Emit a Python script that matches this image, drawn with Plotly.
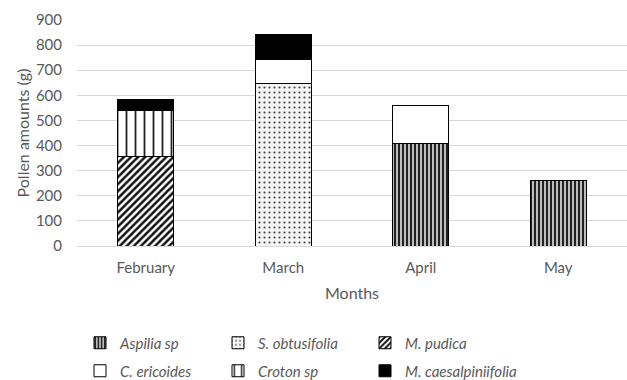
import plotly.graph_objects as go

months = ["February", "March", "April", "May"]

# Pollen amounts (g) per plant species and month
aspilia = [0, 0, 410, 260]
s_obtusifolia = [0, 648, 0, 0]
m_pudica = [358, 0, 0, 0]
c_ericoides = [0, 96, 150, 0]
croton = [180, 0, 0, 0]
m_caesalpiniifolia = [46, 99, 0, 0]

series = [
    ("Aspilia sp", aspilia,
     dict(shape="|", fgcolor="#111111", bgcolor="#bdbdbd", size=4, solidity=0.45)),
    ("S. obtusifolia", s_obtusifolia,
     dict(shape=".", fgcolor="#444444", bgcolor="#f4f4f4", size=5, solidity=0.15)),
    ("M. pudica", m_pudica,
     dict(shape="/", fgcolor="#111111", bgcolor="#ffffff", size=5, solidity=0.5)),
    ("C. ericoides", c_ericoides,
     dict(shape="", fgcolor="#000000", bgcolor="#ffffff")),
    ("Croton sp", croton,
     dict(shape="|", fgcolor="#222222", bgcolor="#ffffff", size=9, solidity=0.2)),
    ("M. caesalpiniifolia", m_caesalpiniifolia,
     dict(shape="", fgcolor="#000000", bgcolor="#000000")),
]

gray = "#595959"
font_family = "Lato, Open Sans, sans-serif"

# legend grid: 3 columns x 2 rows, one legend box per entry (pixel anchors)
plot_left, plot_top, plot_w, plot_h = 77, 20, 550, 226
col_px = [80, 218, 365]
row_px = [343, 371]

fig = go.Figure()
legends = {}
for i, (name, vals, pat) in enumerate(series):
    key = "legend" if i == 0 else f"legend{i + 1}"
    color = "#000000" if name == "M. caesalpiniifolia" else "#ffffff"
    fig.add_trace(go.Bar(
        x=months, y=vals, name=name, legend=key, showlegend=True,
        marker=dict(color=color, pattern=dict(fillmode="replace", **pat),
                    line=dict(color="#000000", width=1)),
    ))
    legends[key] = dict(
        orientation="h", xanchor="left", yanchor="middle",
        x=(col_px[i % 3] - plot_left) / plot_w,
        y=(plot_top + plot_h - row_px[i // 3]) / plot_h,
        font=dict(family=font_family, size=15, color=gray, style="italic"),
        itemwidth=30, bgcolor="rgba(0,0,0,0)", visible=True,
    )

fig.update_layout(
    showlegend=True,
    barmode="stack",
    bargap=0.59,
    width=627, height=380,
    margin=dict(l=plot_left, r=627 - plot_left - plot_w, t=plot_top,
                b=380 - plot_top - plot_h, autoexpand=False),
    paper_bgcolor="white", plot_bgcolor="white",
    font=dict(family=font_family, color=gray, size=15),
    xaxis=dict(
        title=dict(text="Months", font=dict(size=16, color=gray), standoff=12),
        showline=True, linecolor="#d9d9d9", ticks="", tickfont=dict(size=15),
        ticklabelstandoff=8,
    ),
    yaxis=dict(
        title=dict(text="Pollen amounts (g)", font=dict(size=16, color=gray), standoff=2),
        range=[0, 900], dtick=100, showgrid=True, gridcolor="#d9d9d9", gridwidth=1,
        zeroline=False, ticks="", tickfont=dict(size=15), ticklabelstandoff=14,
    ),
    **legends,
)

fig.write_html("out.html")
